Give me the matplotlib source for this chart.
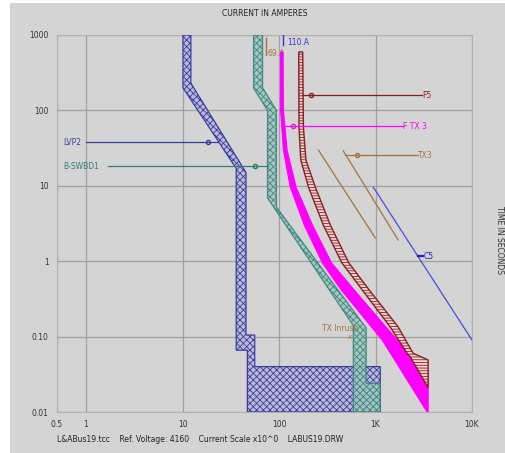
import matplotlib.pyplot as plt
from matplotlib.patches import Polygon, Rectangle

# time-current bands: current in amperes, time in seconds
lvp2_left_i = [10.1, 10.1, 36, 36, 47, 47, 1120]
lvp2_left_t = [1000, 200, 17, 0.066, 0.066, 0.01, 0.01]
lvp2_right_i = [12.2, 12.2, 45.5, 45.5, 56, 56, 1120]
lvp2_right_t = [1000, 230, 15, 0.105, 0.105, 0.04, 0.04]

swbd_left_i = [54.5, 54.5, 76, 76, 589, 589, 1120]
swbd_left_t = [1000, 198, 100, 6.9, 0.14, 0.01, 0.01]
swbd_right_i = [67.5, 67.5, 94, 94, 800, 800, 1120]
swbd_right_t = [1000, 200, 100, 5.2, 0.13, 0.024, 0.024]

ftx3_left_i = [104, 104, 111, 131, 183, 282, 442, 1175, 3430, 3510]
ftx3_left_t = [596, 100, 30, 9.6, 3.0, 0.95, 0.415, 0.09, 0.01, 0.01]
ftx3_right_i = [110, 111, 121, 150, 222, 350, 600, 1678, 2287, 3510]
ftx3_right_t = [596, 100, 30, 9.6, 3.0, 0.95, 0.415, 0.09, 0.054, 0.036]

f5_left_i = [160, 161, 168, 202, 288, 448, 730, 1420, 2128, 2287, 3510]
f5_left_t = [596, 60, 22, 9.6, 3.0, 0.95, 0.415, 0.134, 0.06, 0.054, 0.021]
f5_right_i = [176, 179, 190, 238, 341, 529, 861, 1718, 2455, 3510]
f5_right_t = [596, 60, 22, 9.6, 3.0, 0.95, 0.415, 0.134, 0.06, 0.049]

tx3_a_i = [256, 994]
tx3_a_t = [29.8, 2.03]
tx3_b_i = [464, 1718]
tx3_b_t = [29, 1.91]
c5_i = [948, 10000]
c5_t = [9.6, 0.09]

xticks = [0.5, 1, 10, 100, 1000, 10000]
xlabels = ['0.5', '1', '10', '100', '1K', '10K']
yticks = [0.01, 0.1, 1, 10, 100, 1000]
ylabels = ['0.01', '0.10', '1', '10', '100', '1000']

BG = '#d4d4d4'
NAVY = '#3c3c9a'
TEAL = '#2e7f76'
MAG = '#ff00ff'
MAROON = '#8a1e1e'
TAN = '#a4723c'
C5BLUE = '#4b4be0'

plt.rcParams['hatch.linewidth'] = 0.6

fig = plt.figure(figsize=(5.06, 4.53), dpi=100, facecolor=BG)
# white strips on the left and top edge of the screenshot
fig.patches.append(Rectangle((0, 0), 10 / 506, 1, transform=fig.transFigure,
                             facecolor='white', edgecolor='none', zorder=-10))
fig.patches.append(Rectangle((0, 1 - 3 / 453), 1, 3 / 453, transform=fig.transFigure,
                             facecolor='white', edgecolor='none', zorder=-10))
ax = fig.add_axes([57 / 506, 1 - 412 / 453, 415 / 506, 377 / 453])
ax.set_facecolor(BG)
ax.set_xscale('log')
ax.set_yscale('log')
ax.set_xlim(0.5, 10000)
ax.set_ylim(0.01, 1000)


def band(li, lt, ri, rt, fc, ec, hatch, z, alpha=1.0, lw=0.9):
    pts = list(zip(li, lt)) + list(zip(ri, rt))[::-1]
    ax.add_patch(Polygon(pts, closed=True, facecolor=fc, edgecolor=ec, hatch=hatch,
                         linewidth=lw, zorder=z, alpha=alpha))


band(lvp2_left_i, lvp2_left_t, lvp2_right_i, lvp2_right_t, '#b9b9da', NAVY, 'xxxxx', 3)
band(swbd_left_i, swbd_left_t, swbd_right_i, swbd_right_t, '#9fc3bd', TEAL, 'xxxxx', 4, 0.85)
band(ftx3_left_i, ftx3_left_t, ftx3_right_i, ftx3_right_t, MAG, MAG, None, 5)
band(f5_left_i, f5_left_t, f5_right_i, f5_right_t, '#ecd6d6', MAROON, '------', 6, lw=1.0)

ax.plot(tx3_a_i, tx3_a_t, color=TAN, lw=0.9, zorder=4)
ax.plot(tx3_b_i, tx3_b_t, color=TAN, lw=0.9, zorder=4)
ax.plot(c5_i, c5_t, color=C5BLUE, lw=0.9, zorder=4)

fs = 5.5
# leader lines and labels
ax.plot([1.0, 23.1], [38, 38], color=NAVY, lw=0.9, zorder=7)
ax.plot([18.2], [38], marker='o', ms=3, mfc='none', mec=NAVY, zorder=7)
ax.text(0.58, 38, 'LVP2', color=NAVY, fontsize=fs, va='center', ha='left')

ax.plot([1.69, 76], [18.3, 18.3], color=TEAL, lw=0.9, zorder=7)
ax.plot([57], [18.3], marker='o', ms=3, mfc='none', mec=TEAL, zorder=7)
ax.text(0.58, 18.3, 'B-SWBD1', color=TEAL, fontsize=fs, va='center', ha='left')

ax.plot([175, 3040], [160, 160], color=MAROON, lw=0.9, zorder=7)
ax.plot([212], [160], marker='o', ms=3, mfc='none', mec=MAROON, zorder=7)
ax.text(3040, 160, 'F5', color=MAROON, fontsize=fs, va='center', ha='left')

ax.plot([104, 1936], [62, 62], color=MAG, lw=0.9, zorder=7)
ax.plot([138], [62], marker='o', ms=3, mfc='none', mec=MAG, zorder=7)
ax.text(1936, 62, 'F TX 3', color=MAG, fontsize=fs, va='center', ha='left')

ax.plot([487, 2766], [25.6, 25.6], color=TAN, lw=0.9, zorder=7)
ax.plot([648], [25.6], marker='o', ms=3, mfc='none', mec=TAN, zorder=7)
ax.text(2766, 25.6, 'TX3', color=TAN, fontsize=fs, va='center', ha='left')

ax.plot([2740, 3120], [1.17, 1.17], color='#2020c0', lw=1.6, zorder=7)
ax.text(3120, 1.17, 'C5', color='#2020c0', fontsize=fs, va='center', ha='left')

ax.plot([111, 111], [1000, 737], color='#3030e0', lw=1.0, zorder=7)
ax.text(122, 807, '110.A', color='#3030e0', fontsize=fs, va='center', ha='left')
ax.plot([72.5, 72.5], [913, 543], color=TAN, lw=1.0, zorder=7)
ax.text(76, 577, '69.A', color=TAN, fontsize=fs, va='center', ha='left')

ax.text(282, 0.13, 'TX Inrush', color=TAN, fontsize=fs, va='center', ha='left', zorder=8)
ax.text(548, 0.096, 'X', color=TAN, fontsize=fs - 1, va='center', ha='center', zorder=8)

ax.set_xticks(xticks)
ax.set_xticklabels(xlabels)
ax.set_yticks(yticks)
ax.set_yticklabels(ylabels)
ax.minorticks_off()
ax.tick_params(length=0, labelsize=fs, colors='#333333', pad=6)
ax.grid(True, color='#a0a0a0', lw=0.9)
for s in ax.spines.values():
    s.set_color('#b0b0b0')

fig.text(264.5 / 506, 1 - 14 / 453, 'CURRENT IN AMPERES', fontsize=fs, ha='center', va='center', color='#222222')
fig.text(57 / 506, 1 - 440 / 453,
         'L&ABus19.tcc    Ref. Voltage: 4160    Current Scale x10^0    LABUS19.DRW',
         fontsize=fs, ha='left', va='center', color='#222222')
fig.text(500 / 506, 1 - 240 / 453, 'TIME IN SECONDS', fontsize=fs, rotation=270,
         ha='center', va='center', color='#333333')

fig.savefig('out.png', dpi=100, facecolor=fig.get_facecolor())
